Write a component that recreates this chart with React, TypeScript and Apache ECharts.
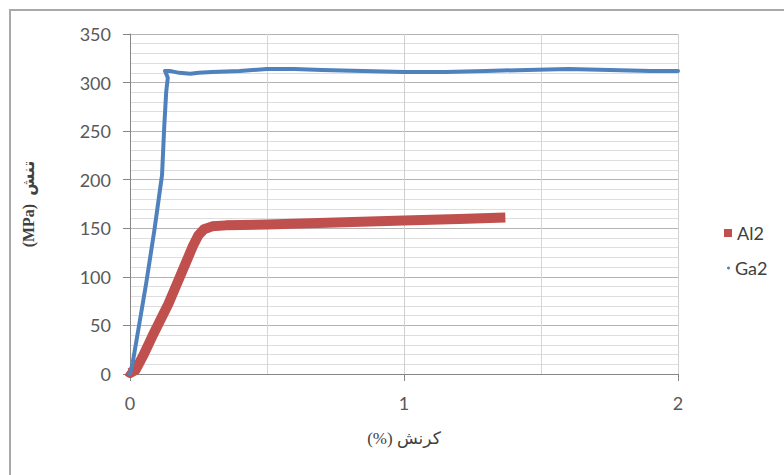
import React, { useEffect, useRef } from "react";
import * as echarts from "echarts";

const al2Strain = [-0.01, 0.0, 0.02, 0.05, 0.08, 0.11, 0.14, 0.17, 0.2, 0.23, 0.25, 0.27, 0.3, 0.35, 0.5, 0.75, 1.0, 1.2, 1.37];
const al2Stress = [3, 1, 4, 20, 38, 55, 72, 92, 112, 132, 143, 149, 152, 153, 154, 156, 158, 159.5, 161];

const ga2Strain = [0.0, 0.01, 0.03, 0.06, 0.09, 0.117, 0.125, 0.132, 0.138, 0.128, 0.145, 0.18, 0.22, 0.25, 0.3, 0.4, 0.5, 0.6, 0.7, 0.85, 1.0, 1.15, 1.3, 1.45, 1.6, 1.75, 1.9, 2.0];
const ga2Stress = [0, 12, 45, 95, 150, 205, 255, 290, 305, 312, 312, 310, 309, 310, 311, 312, 314, 314, 313, 312, 311, 311, 312, 313, 314, 313, 312, 312];

const yTicks = { min: 0, max: 350, step: 50 };
const xTicks = { min: 0, max: 2, step: 1 };

const pair = (xs: number[], ys: number[]) => xs.map((x, i) => [x, ys[i]]);

export default function App() {
  const ref = useRef<HTMLDivElement>(null);
  useEffect(() => {
    if (!ref.current) return;
    const chart = echarts.init(ref.current, null, { renderer: "svg" });
    const tickFont = { fontFamily: "Lato", fontSize: 18, color: "#595959" };
    chart.setOption({
      animation: false,
      backgroundColor: "#ffffff",
      grid: { left: 130, top: 34, right: 106, bottom: 101 },
      xAxis: {
        type: "value",
        min: xTicks.min,
        max: xTicks.max,
        interval: xTicks.step,
        name: "(%) کرنش",
        nameLocation: "middle",
        nameGap: 56,
        nameTextStyle: { fontFamily: "Liberation Serif, DejaVu Serif, DejaVu Sans", fontSize: 17, color: "#404040" },
        axisLine: { show: true, onZero: false, lineStyle: { color: "#868686", width: 1 } },
        axisTick: { show: true, length: 7, lineStyle: { color: "#868686" } },
        axisLabel: { ...tickFont, margin: 20 },
        splitLine: { show: true, lineStyle: { color: "#d0d0d0", width: 1 } },
        minorTick: { show: false, splitNumber: 2 },
        minorSplitLine: { show: true, lineStyle: { color: "#d6d6d6", width: 1 } },
      },
      yAxis: {
        type: "value",
        min: yTicks.min,
        max: yTicks.max,
        interval: yTicks.step,
        name: "(MPa)  تنش",
        nameLocation: "middle",
        nameGap: 94,
        nameRotate: 90,
        nameTextStyle: { fontFamily: "Liberation Serif, DejaVu Serif, DejaVu Sans", fontSize: 16, fontWeight: "bold", color: "#404040" },
        axisLine: { show: true, lineStyle: { color: "#868686", width: 1 } },
        axisTick: { show: true, length: 7, lineStyle: { color: "#868686" } },
        axisLabel: { ...tickFont, margin: 19 },
        splitLine: { show: true, lineStyle: { color: "#b4b4b4", width: 1 } },
        minorTick: { show: false, splitNumber: 5 },
        minorSplitLine: { show: true, lineStyle: { color: "#dedede", width: 1 } },
      },
      legend: [
        {
          data: [{ name: "Al2", icon: "rect" }],
          left: 719,
          top: 219,
          itemWidth: 8,
          itemHeight: 8,
          itemGap: 8,
          textStyle: { fontFamily: "Lato", fontSize: 18, color: "#404040" },
        },
        {
          data: [{ name: "Ga2", icon: "circle" }],
          left: 722,
          top: 254,
          itemWidth: 3,
          itemHeight: 3,
          itemGap: 8,
          textStyle: { fontFamily: "Lato", fontSize: 18, color: "#404040" },
        },
      ],
      graphic: [
        {
          type: "rect",
          z: -10,
          shape: { x: 10, y: 10, width: 800, height: 500 },
          style: { fill: "none", stroke: "#a9a9a9", lineWidth: 2 },
        },
      ],
      series: [
        {
          name: "Al2",
          type: "line",
          data: pair(al2Strain, al2Stress),
          showSymbol: false,
          symbol: "rect",
          color: "#C0504D",
          lineStyle: { width: 10, color: "#C0504D", cap: "butt", join: "round" },
          z: 2,
        },
        {
          name: "Ga2",
          type: "line",
          data: pair(ga2Strain, ga2Stress),
          showSymbol: false,
          symbol: "circle",
          color: "#4F81BD",
          lineStyle: { width: 4, color: "#4F81BD", cap: "round", join: "round" },
          z: 3,
        },
      ],
    });
    return () => chart.dispose();
  }, []);
  return (
    <div
      ref={ref}
      style={{ position: "fixed", left: 0, top: 0, width: 784, height: 475, background: "#fff" }}
    />
  );
}
